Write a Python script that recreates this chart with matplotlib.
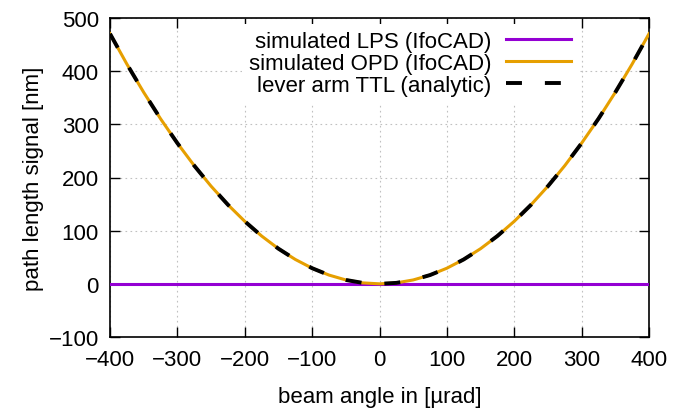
import numpy as np
import matplotlib
matplotlib.use("Agg")
import matplotlib.pyplot as plt

plt.rcParams['font.family'] = ['Liberation Sans', 'DejaVu Sans']
plt.rcParams['font.size'] = 16

# beam angle in urad
angle = [-400, -375, -350, -325, -300, -275, -250, -225, -200, -175, -150, -125,
         -100, -75, -50, -25, 0, 25, 50, 75, 100, 125, 150, 175, 200, 225, 250,
         275, 300, 325, 350, 375, 400]

# path length signals in nm
lps_sim = [0.0] * len(angle)
opd_sim = [470.4, 413.4, 360.2, 310.5, 264.6, 222.3, 183.7, 148.8, 117.6, 90.0,
           66.1, 45.9, 29.4, 16.5, 7.3, 1.8, 0.0, 1.8, 7.3, 16.5, 29.4, 45.9,
           66.1, 90.0, 117.6, 148.8, 183.7, 222.3, 264.6, 310.5, 360.2, 413.4, 470.4]
ttl_analytic = [470.4, 413.4, 360.2, 310.5, 264.6, 222.3, 183.7, 148.8, 117.6, 90.0,
                66.1, 45.9, 29.4, 16.5, 7.3, 1.8, 0.0, 1.8, 7.3, 16.5, 29.4, 45.9,
                66.1, 90.0, 117.6, 148.8, 183.7, 222.3, 264.6, 310.5, 360.2, 413.4, 470.4]

fig = plt.figure(figsize=(6.86, 4.10), dpi=100)
ax = fig.add_axes([110 / 686, 72 / 410, 539 / 686, 319 / 410])

ax.plot(angle, lps_sim, color='#9400d3', lw=2.2, label='simulated LPS (IfoCAD)', zorder=3)
ax.plot(angle, opd_sim, color='#e69f00', lw=2.2, label='simulated OPD (IfoCAD)', zorder=4)
ax.plot(angle, ttl_analytic, color='black', lw=2.8, dashes=(4.1, 5.9),
        label='lever arm TTL (analytic)', zorder=5)

ax.set_xlim(-400, 400)
ax.set_ylim(-100, 500)
ax.set_xticks(np.arange(-400, 401, 100))
ax.set_yticks(np.arange(-100, 501, 100))
ax.tick_params(direction='in', length=7.5, width=1.0, top=True, right=True)
ax.tick_params(axis='x', pad=9)
ax.tick_params(axis='y', pad=8)
for s in ax.spines.values():
    s.set_linewidth(1.2)

ax.grid(True, color='#c0c0c0', linestyle=(0, (1.5, 3)), linewidth=0.8)
ax.set_axisbelow(True)

ax.set_xlabel('beam angle in [µrad]', labelpad=11)
ax.set_ylabel('path length signal [nm]', labelpad=3)

leg = ax.legend(loc='upper right', bbox_to_anchor=(0.888, 1.015), markerfirst=False,
                frameon=True, framealpha=1, edgecolor='none', facecolor='white',
                handlelength=2.9, handletextpad=0.68, labelspacing=0.05,
                borderpad=0.3, fancybox=False)
leg.set_zorder(2)
# right-align the labels like gnuplot's key
for col in leg._legend_handle_box.get_children():
    col.align = 'right'

fig.savefig('out.png', dpi=100)
